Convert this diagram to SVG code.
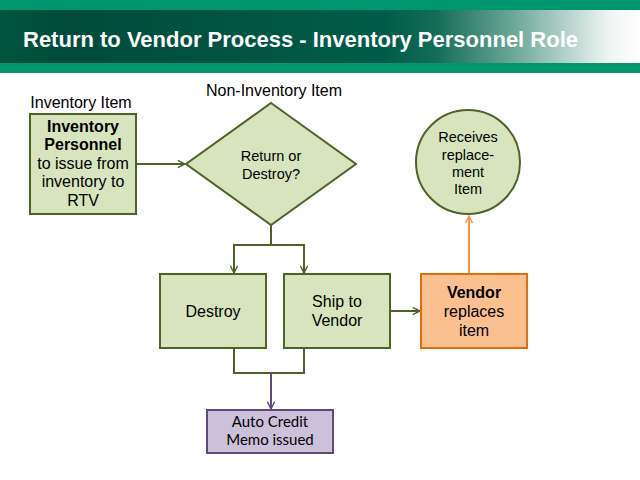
<svg xmlns="http://www.w3.org/2000/svg" width="640" height="480" viewBox="0 0 640 480">
<defs>
<linearGradient id="band" x1="0" y1="0" x2="1" y2="0">
<stop offset="0" stop-color="#00553f"/>
<stop offset="0.1" stop-color="#004b3a"/>
<stop offset="0.6" stop-color="#005c48"/>
<stop offset="0.68" stop-color="#136c56"/>
<stop offset="0.8" stop-color="#6aa696"/>
<stop offset="0.95" stop-color="#eef4f2"/>
<stop offset="1" stop-color="#ffffff"/>
</linearGradient>
<marker id="ag" viewBox="0 0 10 10" refX="9" refY="5" markerWidth="9" markerHeight="9" markerUnits="userSpaceOnUse" orient="auto"><path d="M1,1 L9,5 L1,9" fill="none" stroke="#4f6228" stroke-width="1.6"/></marker>
<marker id="ap" viewBox="0 0 10 10" refX="9" refY="5" markerWidth="9" markerHeight="9" markerUnits="userSpaceOnUse" orient="auto"><path d="M1,1 L9,5 L1,9" fill="none" stroke="#5f497a" stroke-width="1.6"/></marker>
<marker id="ao" viewBox="0 0 10 10" refX="9" refY="5" markerWidth="9" markerHeight="9" markerUnits="userSpaceOnUse" orient="auto"><path d="M1,1 L9,5 L1,9" fill="none" stroke="#f79646" stroke-width="1.6"/></marker>
</defs>
<style>
text{font-family:"Liberation Sans",Arial,sans-serif;fill:#000}
.t{font-size:16px;text-anchor:middle}
.s{font-size:14.5px;text-anchor:middle}
.b{font-weight:bold}
.c{font-family:Lato,"Liberation Sans",sans-serif;font-size:15px;text-anchor:middle}
.g{fill:#d7e4bd;stroke:#4f6228;stroke-width:2}
.lg{fill:none;stroke:#4f6228;stroke-width:2}
</style>
<rect width="640" height="480" fill="#fff"/>
<g id="header">
<rect x="0" y="0" width="640" height="10" fill="#009670"/>
<rect x="0" y="10" width="640" height="53" fill="url(#band)"/>
<rect x="0" y="63" width="640" height="10" fill="#009670"/>
<text x="23" y="47" style="font-size:22px;font-weight:bold;fill:#fff">Return to Vendor Process - Inventory Personnel Role</text>
</g>
<g id="labels">
<text class="t" x="81" y="108">Inventory Item</text>
<text class="t" x="274" y="96">Non-Inventory Item</text>
</g>
<g id="connectors">
<line class="lg" x1="136" y1="164" x2="185" y2="164" marker-end="url(#ag)"/>
<polyline class="lg" points="271,225 271,245"/>
<polyline class="lg" points="304,273 304,245 234,245 234,273" marker-end="url(#ag)"/>
<line class="lg" x1="304" y1="245" x2="304" y2="273" marker-end="url(#ag)"/>
<polyline class="lg" points="234,348 234,373 304,373 304,348"/>
<line x1="271" y1="373" x2="271" y2="409" stroke="#5f497a" stroke-width="2" marker-end="url(#ap)"/>
<line class="lg" x1="390" y1="311" x2="420" y2="311" marker-end="url(#ag)"/>
<line x1="469" y1="273" x2="469" y2="216" stroke="#f79646" stroke-width="2" marker-end="url(#ao)"/>
</g>
<g id="inventory-personnel">
<rect class="g" x="30" y="114" width="106" height="100"/>
<text class="t b" x="83" y="132">Inventory</text>
<text class="t b" x="83" y="150">Personnel</text>
<text class="t" x="83" y="169">to issue from</text>
<text class="t" x="83" y="187">inventory to</text>
<text class="t" x="83" y="206">RTV</text>
</g>
<g id="decision">
<polygon class="g" points="271,103 356,164 271,225 186,164"/>
<text class="s" x="271" y="161">Return or</text>
<text class="s" x="271" y="179">Destroy?</text>
</g>
<g id="destroy">
<rect class="g" x="160" y="274" width="106" height="74"/>
<text class="t" x="213" y="317">Destroy</text>
</g>
<g id="ship">
<rect class="g" x="284" y="274" width="106" height="74"/>
<text class="t" x="337" y="307">Ship to</text>
<text class="t" x="337" y="326">Vendor</text>
</g>
<g id="credit-memo">
<rect x="207" y="410" width="126" height="43" fill="#ccc1da" stroke="#5f497a" stroke-width="2"/>
<text class="c" x="270" y="427">Auto Credit</text>
<text class="c" x="270" y="445">Memo issued</text>
</g>
<g id="vendor">
<rect x="421" y="274" width="106" height="74" fill="#fac090" stroke="#e46c0a" stroke-width="2"/>
<text class="t b" x="474" y="298">Vendor</text>
<text class="t" x="474" y="317">replaces</text>
<text class="t" x="474" y="336">item</text>
</g>
<g id="receives">
<circle cx="468" cy="162" r="52" fill="#d7e4bd" stroke="#4f6228" stroke-width="2"/>
<text class="s" x="468" y="142">Receives</text>
<text class="s" x="468" y="160">replace-</text>
<text class="s" x="468" y="177">ment</text>
<text class="s" x="468" y="194">Item</text>
</g>
</svg>
